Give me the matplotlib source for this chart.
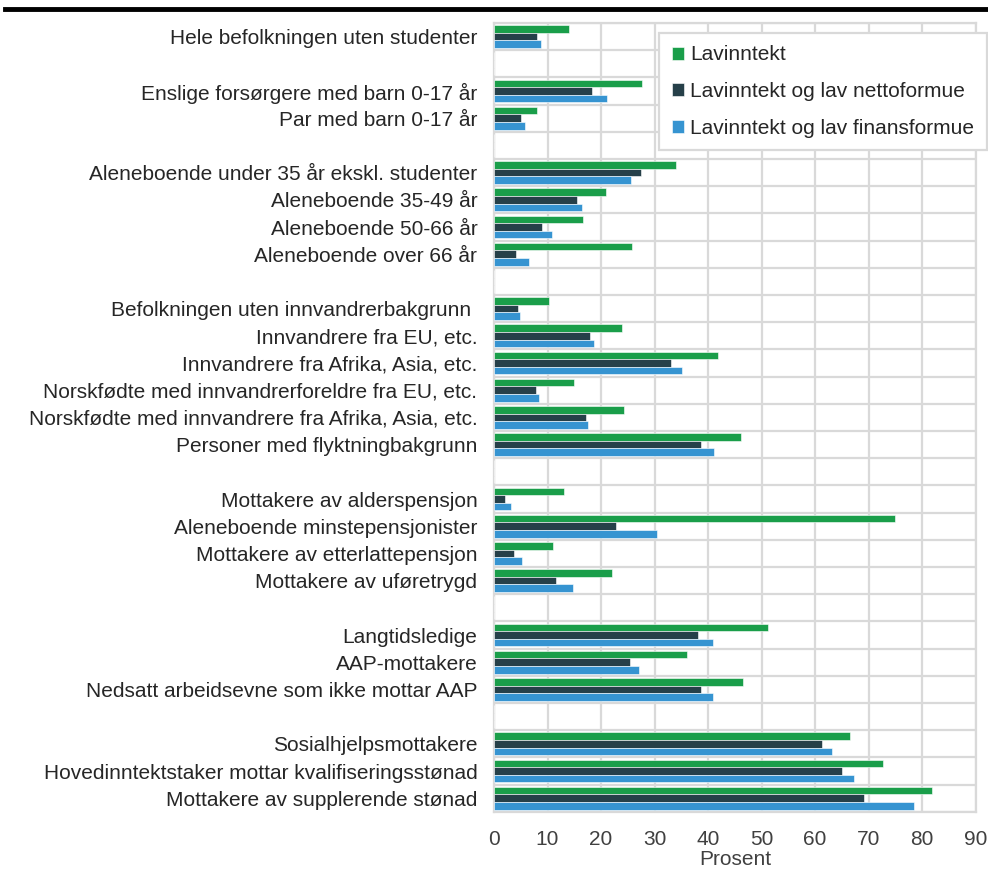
import matplotlib
matplotlib.use("Agg")
import matplotlib.pyplot as plt
import numpy as np

plt.rcParams['font.family'] = ['Liberation Sans', 'DejaVu Sans']

categories = [
    "Hele befolkningen uten studenter",
    "",
    "Enslige forsørgere med barn 0-17 år",
    "Par med barn 0-17 år",
    "",
    "Aleneboende under 35 år ekskl. studenter",
    "Aleneboende 35-49 år",
    "Aleneboende 50-66 år",
    "Aleneboende over 66 år",
    "",
    "Befolkningen uten innvandrerbakgrunn ",
    "Innvandrere fra EU, etc.",
    "Innvandrere fra Afrika, Asia, etc.",
    "Norskfødte med innvandrerforeldre fra EU, etc.",
    "Norskfødte med innvandrere fra Afrika, Asia, etc.",
    "Personer med flyktningbakgrunn",
    "",
    "Mottakere av alderspensjon",
    "Aleneboende minstepensjonister",
    "Mottakere av etterlattepensjon",
    "Mottakere av uføretrygd",
    "",
    "Langtidsledige",
    "AAP-mottakere",
    "Nedsatt arbeidsevne som ikke mottar AAP",
    "",
    "Sosialhjelpsmottakere",
    "Hovedinntektstaker mottar kvalifiseringsstønad",
    "Mottakere av supplerende stønad",
]

lavinntekt = [14.1, np.nan, 27.7, 8.1, np.nan, 34.0, 21.0, 16.7, 25.7, np.nan,
              10.3, 24.0, 41.9, 15.0, 24.3, 46.2, np.nan,
              13.1, 74.9, 11.1, 22.1, np.nan,
              51.2, 36.1, 46.6, np.nan,
              66.5, 72.6, 81.8]
netto = [8.0, np.nan, 18.3, 5.1, np.nan, 27.4, 15.5, 9.0, 4.2, np.nan,
         4.4, 17.9, 33.0, 7.8, 17.2, 38.6, np.nan,
         2.0, 22.8, 3.8, 11.5, np.nan,
         38.2, 25.4, 38.6, np.nan,
         61.3, 65.1, 69.2]
finans = [8.7, np.nan, 21.2, 5.7, np.nan, 25.6, 16.4, 10.8, 6.5, np.nan,
          4.9, 18.6, 35.2, 8.4, 17.6, 41.2, np.nan,
          3.2, 30.4, 5.2, 14.7, np.nan,
          40.9, 27.1, 40.9, np.nan,
          63.2, 67.2, 78.4]

series_names = ["Lavinntekt", "Lavinntekt og lav nettoformue", "Lavinntekt og lav finansformue"]
colors = ["#1a9e4a", "#264049", "#3694d1"]
xticks = [0, 10, 20, 30, 40, 50, 60, 70, 80, 90]

FS = 15

fig = plt.figure(figsize=(9.88, 8.72), dpi=100)
ax = fig.add_axes([0.5, 0.069, 0.4875, 0.9046])

y = np.arange(len(categories))
h = 0.28
for vals, name, col, off in zip([lavinntekt, netto, finans], series_names, colors, [-h, 0, h]):
    v = np.array(vals, dtype=float)
    ax.barh(y + off, np.nan_to_num(v), height=h, color=col, label=name,
            edgecolor='white', linewidth=0.4, zorder=3)

ax.set_ylim(len(categories) - 0.5, -0.5)
ax.set_xlim(0, 90)
ax.set_xticks(xticks)
ax.set_xticklabels([str(t) for t in xticks], fontsize=FS, color='#404040')
ax.set_yticks(y)
ax.set_yticklabels(categories, fontsize=FS, color='#262626')
ax.set_yticks(np.arange(len(categories) + 1) - 0.5, minor=True)
ax.tick_params(axis='y', which='both', length=0, pad=12)
ax.tick_params(axis='x', which='both', length=0, pad=13)
ax.grid(axis='x', which='major', color='#d9d9d9', linewidth=1.6, zorder=0)
ax.grid(axis='y', which='minor', color='#d9d9d9', linewidth=1.6, zorder=0)
ax.grid(axis='y', which='major', visible=False)
for s in ax.spines.values():
    s.set_color('#d9d9d9')
    s.set_linewidth(1.6)
ax.set_xlabel("Prosent", fontsize=FS, color='#404040', labelpad=1)

leg = fig.legend(*ax.get_legend_handles_labels(), loc='upper left',
                 bbox_to_anchor=(659 / 988, 1 - 33 / 872), fontsize=FS,
                 frameon=True, fancybox=False, edgecolor='#d9d9d9',
                 handlelength=0.6, handleheight=0.6, handletextpad=0.3,
                 labelspacing=0.85, borderpad=0.6, borderaxespad=0, framealpha=1)
leg.get_frame().set_linewidth(1.6)
for t in leg.get_texts():
    t.set_color('#262626')

# thick rule at top
fig.add_artist(plt.Line2D([0.005, 1.0], [0.9895, 0.9895], color='black', linewidth=3.5,
                          transform=fig.transFigure))

fig.savefig("out.png", dpi=100)
